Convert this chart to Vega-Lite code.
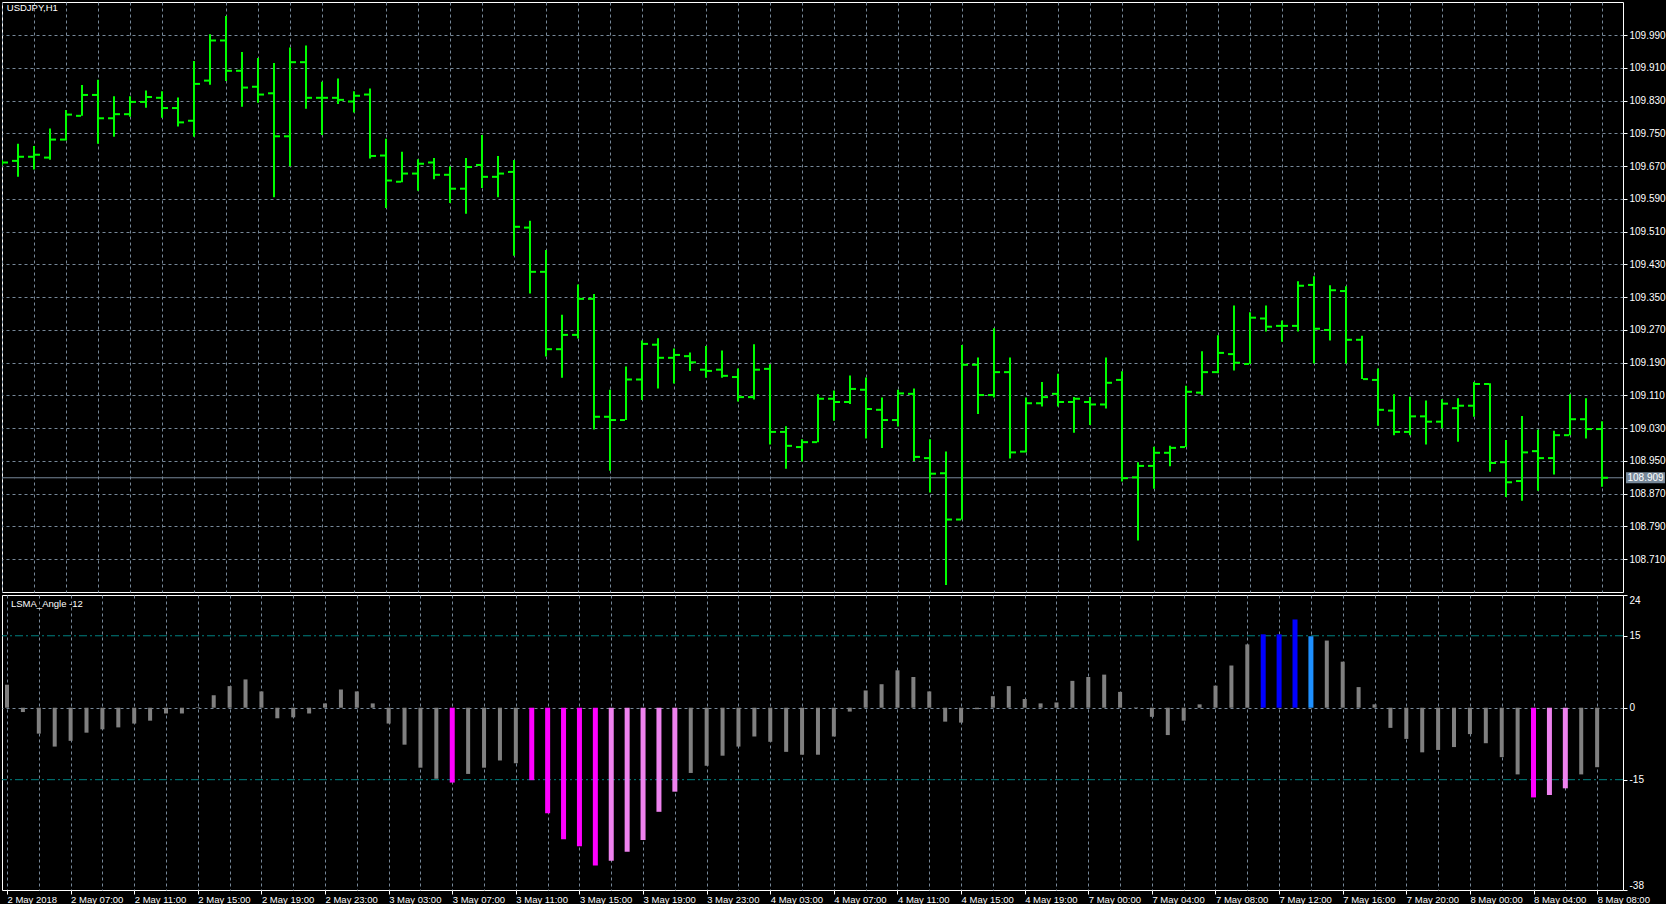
{
  "$schema": "https://vega.github.io/schema/vega-lite/v6.json",
  "background": "#000000",
  "padding": {"left": 1, "top": 1, "right": 0, "bottom": 0},
  "spacing": 1,
  "config": {
    "view": {"stroke": "#ffffff", "strokeWidth": 1},
    "font": "Liberation Sans",
    "axis": {"labelFont": "Liberation Sans", "labelFontSize": 10, "labelColor": "#ffffff", "tickColor": "#ffffff", "gridColor": "#778899", "gridDash": [3, 3], "gridWidth": 1, "domain": false}
  },
  "datasets": {
    "ohlc": [
      {"i":0,"o":109.679,"h":109.685,"l":109.672,"c":109.679},
      {"i":1,"o":109.683,"h":109.725,"l":109.644,"c":109.693},
      {"i":2,"o":109.693,"h":109.719,"l":109.662,"c":109.698},
      {"i":3,"o":109.691,"h":109.762,"l":109.686,"c":109.735},
      {"i":4,"o":109.735,"h":109.807,"l":109.733,"c":109.796},
      {"i":5,"o":109.793,"h":109.868,"l":109.793,"c":109.844},
      {"i":6,"o":109.844,"h":109.881,"l":109.725,"c":109.787},
      {"i":7,"o":109.787,"h":109.841,"l":109.742,"c":109.797},
      {"i":8,"o":109.797,"h":109.841,"l":109.791,"c":109.827},
      {"i":9,"o":109.827,"h":109.855,"l":109.813,"c":109.839},
      {"i":10,"o":109.837,"h":109.853,"l":109.788,"c":109.812},
      {"i":11,"o":109.812,"h":109.838,"l":109.767,"c":109.777},
      {"i":12,"o":109.781,"h":109.927,"l":109.742,"c":109.871},
      {"i":13,"o":109.879,"h":109.992,"l":109.869,"c":109.977},
      {"i":14,"o":109.977,"h":110.037,"l":109.878,"c":109.903},
      {"i":15,"o":109.903,"h":109.949,"l":109.815,"c":109.862},
      {"i":16,"o":109.864,"h":109.934,"l":109.825,"c":109.845},
      {"i":17,"o":109.848,"h":109.922,"l":109.594,"c":109.743},
      {"i":18,"o":109.743,"h":109.960,"l":109.670,"c":109.924},
      {"i":19,"o":109.924,"h":109.965,"l":109.810,"c":109.837},
      {"i":20,"o":109.837,"h":109.876,"l":109.746,"c":109.837},
      {"i":21,"o":109.837,"h":109.884,"l":109.822,"c":109.832},
      {"i":22,"o":109.828,"h":109.853,"l":109.801,"c":109.842},
      {"i":23,"o":109.845,"h":109.860,"l":109.689,"c":109.695},
      {"i":24,"o":109.696,"h":109.737,"l":109.568,"c":109.635},
      {"i":25,"o":109.632,"h":109.705,"l":109.631,"c":109.652},
      {"i":26,"o":109.652,"h":109.687,"l":109.610,"c":109.676},
      {"i":27,"o":109.679,"h":109.690,"l":109.638,"c":109.649},
      {"i":28,"o":109.649,"h":109.670,"l":109.580,"c":109.615},
      {"i":29,"o":109.615,"h":109.690,"l":109.554,"c":109.668},
      {"i":30,"o":109.673,"h":109.746,"l":109.617,"c":109.644},
      {"i":31,"o":109.644,"h":109.695,"l":109.594,"c":109.652},
      {"i":32,"o":109.656,"h":109.685,"l":109.451,"c":109.522},
      {"i":33,"o":109.520,"h":109.537,"l":109.359,"c":109.412},
      {"i":34,"o":109.412,"h":109.465,"l":109.205,"c":109.223},
      {"i":35,"o":109.223,"h":109.307,"l":109.153,"c":109.258},
      {"i":36,"o":109.258,"h":109.381,"l":109.249,"c":109.346},
      {"i":37,"o":109.346,"h":109.358,"l":109.027,"c":109.058},
      {"i":38,"o":109.058,"h":109.124,"l":108.926,"c":109.050},
      {"i":39,"o":109.050,"h":109.181,"l":109.050,"c":109.149},
      {"i":40,"o":109.149,"h":109.244,"l":109.099,"c":109.236},
      {"i":41,"o":109.234,"h":109.250,"l":109.127,"c":109.202},
      {"i":42,"o":109.202,"h":109.225,"l":109.139,"c":109.209},
      {"i":43,"o":109.206,"h":109.215,"l":109.170,"c":109.191},
      {"i":44,"o":109.173,"h":109.231,"l":109.153,"c":109.170},
      {"i":45,"o":109.173,"h":109.220,"l":109.153,"c":109.158},
      {"i":46,"o":109.155,"h":109.176,"l":109.095,"c":109.106},
      {"i":47,"o":109.106,"h":109.235,"l":109.100,"c":109.173},
      {"i":48,"o":109.175,"h":109.186,"l":108.990,"c":109.021},
      {"i":49,"o":109.021,"h":109.035,"l":108.931,"c":108.987},
      {"i":50,"o":108.984,"h":109.003,"l":108.949,"c":108.996},
      {"i":51,"o":108.996,"h":109.113,"l":108.996,"c":109.102},
      {"i":52,"o":109.102,"h":109.122,"l":109.048,"c":109.094},
      {"i":53,"o":109.094,"h":109.159,"l":109.089,"c":109.126},
      {"i":54,"o":109.124,"h":109.154,"l":109.005,"c":109.077},
      {"i":55,"o":109.075,"h":109.105,"l":108.982,"c":109.050},
      {"i":56,"o":109.050,"h":109.124,"l":109.034,"c":109.115},
      {"i":57,"o":109.114,"h":109.127,"l":108.950,"c":108.960},
      {"i":58,"o":108.957,"h":109.003,"l":108.873,"c":108.919},
      {"i":59,"o":108.920,"h":108.973,"l":108.647,"c":108.807},
      {"i":60,"o":108.807,"h":109.233,"l":108.807,"c":109.185},
      {"i":61,"o":109.185,"h":109.203,"l":109.065,"c":109.111},
      {"i":62,"o":109.111,"h":109.274,"l":109.105,"c":109.167},
      {"i":63,"o":109.167,"h":109.203,"l":108.956,"c":108.971},
      {"i":64,"o":108.973,"h":109.105,"l":108.971,"c":109.091},
      {"i":65,"o":109.091,"h":109.143,"l":109.083,"c":109.106},
      {"i":66,"o":109.114,"h":109.163,"l":109.083,"c":109.094},
      {"i":67,"o":109.094,"h":109.106,"l":109.019,"c":109.102},
      {"i":68,"o":109.094,"h":109.106,"l":109.038,"c":109.088},
      {"i":69,"o":109.088,"h":109.203,"l":109.078,"c":109.141},
      {"i":70,"o":109.148,"h":109.169,"l":108.900,"c":108.908},
      {"i":71,"o":108.910,"h":108.947,"l":108.756,"c":108.938},
      {"i":72,"o":108.938,"h":108.985,"l":108.882,"c":108.970},
      {"i":73,"o":108.970,"h":108.987,"l":108.937,"c":108.982},
      {"i":74,"o":108.984,"h":109.134,"l":108.984,"c":109.119},
      {"i":75,"o":109.117,"h":109.218,"l":109.111,"c":109.167},
      {"i":76,"o":109.167,"h":109.257,"l":109.164,"c":109.214},
      {"i":77,"o":109.211,"h":109.330,"l":109.171,"c":109.190},
      {"i":78,"o":109.187,"h":109.313,"l":109.187,"c":109.300},
      {"i":79,"o":109.298,"h":109.330,"l":109.266,"c":109.278},
      {"i":80,"o":109.280,"h":109.293,"l":109.241,"c":109.280},
      {"i":81,"o":109.280,"h":109.389,"l":109.266,"c":109.378},
      {"i":82,"o":109.380,"h":109.401,"l":109.188,"c":109.273},
      {"i":83,"o":109.270,"h":109.379,"l":109.244,"c":109.367},
      {"i":84,"o":109.365,"h":109.377,"l":109.188,"c":109.246},
      {"i":85,"o":109.246,"h":109.256,"l":109.150,"c":109.150},
      {"i":86,"o":109.148,"h":109.176,"l":109.036,"c":109.075},
      {"i":87,"o":109.073,"h":109.113,"l":109.013,"c":109.021},
      {"i":88,"o":109.021,"h":109.107,"l":109.013,"c":109.059},
      {"i":89,"o":109.059,"h":109.098,"l":108.990,"c":109.046},
      {"i":90,"o":109.046,"h":109.101,"l":109.030,"c":109.090},
      {"i":91,"o":109.079,"h":109.103,"l":108.997,"c":109.085},
      {"i":92,"o":109.085,"h":109.143,"l":109.058,"c":109.138},
      {"i":93,"o":109.138,"h":109.140,"l":108.924,"c":108.945},
      {"i":94,"o":108.947,"h":109.001,"l":108.862,"c":108.898},
      {"i":95,"o":108.901,"h":109.060,"l":108.853,"c":108.971},
      {"i":96,"o":108.974,"h":109.026,"l":108.877,"c":108.957},
      {"i":97,"o":108.957,"h":109.024,"l":108.917,"c":109.013},
      {"i":98,"o":109.013,"h":109.113,"l":109.013,"c":109.052},
      {"i":99,"o":109.052,"h":109.103,"l":109.005,"c":109.028},
      {"i":100,"o":109.028,"h":109.047,"l":108.887,"c":108.909}
    ],
    "osc": [
      {"i":0,"v":4.8,"k":"g"},{"i":1,"v":-0.9,"k":"g"},{"i":2,"v":-5.4,"k":"g"},{"i":3,"v":-8.1,"k":"g"},
      {"i":4,"v":-6.9,"k":"g"},{"i":5,"v":-5.2,"k":"g"},{"i":6,"v":-4.5,"k":"g"},{"i":7,"v":-4.1,"k":"g"},
      {"i":8,"v":-3.3,"k":"g"},{"i":9,"v":-2.7,"k":"g"},{"i":10,"v":-1.2,"k":"g"},{"i":11,"v":-1.2,"k":"g"},
      {"i":12,"v":0.1,"k":"g"},{"i":13,"v":2.6,"k":"g"},{"i":14,"v":4.5,"k":"g"},{"i":15,"v":5.9,"k":"g"},
      {"i":16,"v":3.4,"k":"g"},{"i":17,"v":-2.2,"k":"g"},{"i":18,"v":-2.0,"k":"g"},{"i":19,"v":-1.2,"k":"g"},
      {"i":20,"v":0.9,"k":"g"},{"i":21,"v":3.8,"k":"g"},{"i":22,"v":3.4,"k":"g"},{"i":23,"v":0.9,"k":"g"},
      {"i":24,"v":-3.3,"k":"g"},{"i":25,"v":-7.7,"k":"g"},{"i":26,"v":-12.5,"k":"g"},{"i":27,"v":-14.8,"k":"g"},
      {"i":28,"v":-15.6,"k":"m"},{"i":29,"v":-13.8,"k":"g"},{"i":30,"v":-12.5,"k":"g"},{"i":31,"v":-11.0,"k":"g"},
      {"i":32,"v":-11.6,"k":"g"},{"i":33,"v":-15.1,"k":"m"},{"i":34,"v":-22.0,"k":"m"},{"i":35,"v":-27.4,"k":"m"},
      {"i":36,"v":-28.9,"k":"m"},{"i":37,"v":-32.9,"k":"m"},{"i":38,"v":-31.9,"k":"v"},{"i":39,"v":-30.0,"k":"v"},
      {"i":40,"v":-27.6,"k":"v"},{"i":41,"v":-21.7,"k":"v"},{"i":42,"v":-17.5,"k":"v"},{"i":43,"v":-13.6,"k":"g"},
      {"i":44,"v":-12.1,"k":"g"},{"i":45,"v":-10.0,"k":"g"},{"i":46,"v":-8.1,"k":"g"},{"i":47,"v":-6.0,"k":"g"},
      {"i":48,"v":-7.1,"k":"g"},{"i":49,"v":-9.2,"k":"g"},{"i":50,"v":-9.8,"k":"g"},{"i":51,"v":-9.8,"k":"g"},
      {"i":52,"v":-6.0,"k":"g"},{"i":53,"v":-0.8,"k":"g"},{"i":54,"v":3.6,"k":"g"},{"i":55,"v":4.9,"k":"g"},
      {"i":56,"v":7.8,"k":"g"},{"i":57,"v":6.4,"k":"g"},{"i":58,"v":3.4,"k":"g"},{"i":59,"v":-2.9,"k":"g"},
      {"i":60,"v":-3.1,"k":"g"},{"i":61,"v":-0.3,"k":"g"},{"i":62,"v":2.4,"k":"g"},{"i":63,"v":4.5,"k":"g"},
      {"i":64,"v":1.8,"k":"g"},{"i":65,"v":0.9,"k":"g"},{"i":66,"v":1.1,"k":"g"},{"i":67,"v":5.6,"k":"g"},
      {"i":68,"v":6.4,"k":"g"},{"i":69,"v":6.9,"k":"g"},{"i":70,"v":3.3,"k":"g"},{"i":71,"v":0.1,"k":"g"},
      {"i":72,"v":-1.9,"k":"g"},{"i":73,"v":-5.7,"k":"g"},{"i":74,"v":-2.7,"k":"g"},{"i":75,"v":0.7,"k":"g"},
      {"i":76,"v":4.6,"k":"g"},{"i":77,"v":8.8,"k":"g"},{"i":78,"v":13.2,"k":"g"},{"i":79,"v":15.3,"k":"b"},
      {"i":80,"v":15.3,"k":"b"},{"i":81,"v":18.4,"k":"b"},{"i":82,"v":14.9,"k":"db"},{"i":83,"v":14.0,"k":"g"},
      {"i":84,"v":9.6,"k":"g"},{"i":85,"v":4.3,"k":"g"},{"i":86,"v":0.7,"k":"g"},{"i":87,"v":-4.2,"k":"g"},
      {"i":88,"v":-6.5,"k":"g"},{"i":89,"v":-9.3,"k":"g"},{"i":90,"v":-8.8,"k":"g"},{"i":91,"v":-8.2,"k":"g"},
      {"i":92,"v":-5.5,"k":"g"},{"i":93,"v":-7.4,"k":"g"},{"i":94,"v":-10.3,"k":"g"},{"i":95,"v":-13.9,"k":"g"},
      {"i":96,"v":-18.7,"k":"m"},{"i":97,"v":-18.2,"k":"v"},{"i":98,"v":-16.8,"k":"v"},{"i":99,"v":-13.9,"k":"g"},
      {"i":100,"v":-12.4,"k":"g"}
    ]
  },
  "vconcat": [
    {
      "width": 1621,
      "height": 590,
      "data": {"name": "ohlc"},
      "layer": [
        {
          "data": {"values": [{}]},
          "mark": {"type": "rule", "color": "#778899", "strokeWidth": 1},
          "encoding": {"y": {"datum": 108.909, "type": "quantitative"}}
        },
        {
          "mark": {"type": "rule", "color": "#00ff00", "strokeWidth": 2, "clip": true},
          "encoding": {
            "x": {"field": "i", "type": "quantitative",
                  "scale": {"domain": [0, 101.3125], "nice": false, "zero": false},
                  "axis": {"values": [0,2,4,6,8,10,12,14,16,18,20,22,24,26,28,30,32,34,36,38,40,42,44,46,48,50,52,54,56,58,60,62,64,66,68,70,72,74,76,78,80,82,84,86,88,90,92,94,96,98,100],
                           "tickCount": 200, "grid": true, "labels": false, "ticks": false, "domain": false, "title": null}},
            "y": {"field": "l", "type": "quantitative",
                  "scale": {"domain": [108.63, 110.071], "nice": false, "zero": false},
                  "axis": {"orient": "right", "values": [108.71,108.79,108.87,108.95,109.03,109.11,109.19,109.27,109.35,109.43,109.51,109.59,109.67,109.75,109.83,109.91,109.99],
                           "tickCount": 200, "format": ".3f", "grid": true, "ticks": true, "tickSize": 4, "labelPadding": 2, "domain": false, "title": null, "labelOverlap": false}},
            "y2": {"field": "h"}
          }
        },
        {
          "mark": {"type": "tick", "orient": "horizontal", "color": "#00ff00", "size": 5, "thickness": 2, "xOffset": -3.5, "opacity": 1, "clip": true},
          "encoding": {
            "x": {"field": "i", "type": "quantitative"},
            "y": {"field": "o", "type": "quantitative"}
          }
        },
        {
          "mark": {"type": "tick", "orient": "horizontal", "color": "#00ff00", "size": 5, "thickness": 2, "xOffset": 3.5, "opacity": 1, "clip": true},
          "encoding": {
            "x": {"field": "i", "type": "quantitative"},
            "y": {"field": "c", "type": "quantitative"}
          }
        },
        {
          "data": {"values": [{}]},
          "mark": {"type": "text", "text": "USDJPY,H1", "align": "left", "baseline": "middle", "color": "#ffffff", "font": "Liberation Sans", "fontSize": 9.5},
          "encoding": {
            "x": {"datum": 0.3, "type": "quantitative"},
            "y": {"datum": 110.056, "type": "quantitative"}
          }
        },
        {
          "data": {"values": [{}]},
          "mark": {"type": "tick", "orient": "horizontal", "color": "#778899", "size": 39, "thickness": 11, "opacity": 1},
          "encoding": {
            "x": {"datum": 102.72, "type": "quantitative"},
            "y": {"datum": 108.909, "type": "quantitative"}
          }
        },
        {
          "data": {"values": [{}]},
          "mark": {"type": "text", "text": "108.909", "align": "center", "baseline": "middle", "color": "#ffffff", "font": "Liberation Sans", "fontSize": 10},
          "encoding": {
            "x": {"datum": 102.72, "type": "quantitative"},
            "y": {"datum": 108.909, "type": "quantitative"}
          }
        }
      ]
    },
    {
      "width": 1621,
      "height": 295,
      "data": {"name": "osc"},
      "layer": [
        {
          "data": {"values": [{}]},
          "mark": {"type": "rule", "color": "#008080", "strokeWidth": 1, "strokeDash": [8, 3, 2, 3]},
          "encoding": {"y": {"datum": 15, "type": "quantitative"}}
        },
        {
          "data": {"values": [{}]},
          "mark": {"type": "rule", "color": "#008080", "strokeWidth": 1, "strokeDash": [8, 3, 2, 3]},
          "encoding": {"y": {"datum": -15, "type": "quantitative"}}
        },
        {
          "mark": {"type": "bar", "clip": true, "opacity": 1},
          "encoding": {
            "x": {"field": "i", "type": "quantitative",
                  "scale": {"domain": [0, 101.3125], "nice": false, "zero": false},
                  "axis": {"values": [0,2,4,6,8,10,12,14,16,18,20,22,24,26,28,30,32,34,36,38,40,42,44,46,48,50,52,54,56,58,60,62,64,66,68,70,72,74,76,78,80,82,84,86,88,90,92,94,96,98,100],
                           "tickCount": 200, "grid": true, "domain": false, "title": null, "ticks": true, "tickSize": 4,
                           "tickColor": {"condition": {"test": "datum.value % 4 === 0", "value": "#ffffff"}, "value": "transparent"},
                           "labelExpr": "datum.value % 4 === 0 ? ['2 May 2018','2 May 07:00','2 May 11:00','2 May 15:00','2 May 19:00','2 May 23:00','3 May 03:00','3 May 07:00','3 May 11:00','3 May 15:00','3 May 19:00','3 May 23:00','4 May 03:00','4 May 07:00','4 May 11:00','4 May 15:00','4 May 19:00','7 May 00:00','7 May 04:00','7 May 08:00','7 May 12:00','7 May 16:00','7 May 20:00','8 May 00:00','8 May 04:00','8 May 08:00'][datum.value / 4] : ''",
                           "labelFontSize": 9.5, "labelAlign": "left", "labelBaseline": "top", "labelPadding": 0, "labelOverlap": false, "labelFlush": false, "labelBound": false}},
            "y": {"field": "v", "type": "quantitative",
                  "scale": {"domain": [-38, 23.5], "nice": false, "zero": false},
                  "axis": {"orient": "right", "values": [23.5, 15, 0, -15, -38], "tickCount": 200,
                           "labelExpr": "datum.value > 20 ? '24' : datum.value < -30 ? '-38' : datum.value < -10 ? '-15' : datum.value > 10 ? '15' : '0'",
                           "labelFlush": true, "grid": true,
                           "gridOpacity": {"condition": {"test": "datum.value === 0", "value": 1}, "value": 0},
                           "ticks": true, "tickSize": 4, "labelPadding": 2, "domain": false, "title": null, "labelOverlap": false}},
            "y2": {"datum": 0},
            "color": {"field": "k", "type": "nominal",
                      "scale": {"domain": ["g", "b", "db", "m", "v"], "range": ["#808080", "#0000ff", "#1e90ff", "#ff00ff", "#ee82ee"]},
                      "legend": null},
            "size": {"condition": {"test": "datum.k !== 'g'", "value": 5}, "value": 4}
          }
        },
        {
          "data": {"values": [{}]},
          "mark": {"type": "text", "text": "LSMA_Angle -12", "align": "left", "baseline": "middle", "color": "#ffffff", "font": "Liberation Sans", "fontSize": 9.5},
          "encoding": {
            "x": {"datum": 0.25, "type": "quantitative"},
            "y": {"datum": 21.6, "type": "quantitative"}
          }
        }
      ]
    }
  ]
}
